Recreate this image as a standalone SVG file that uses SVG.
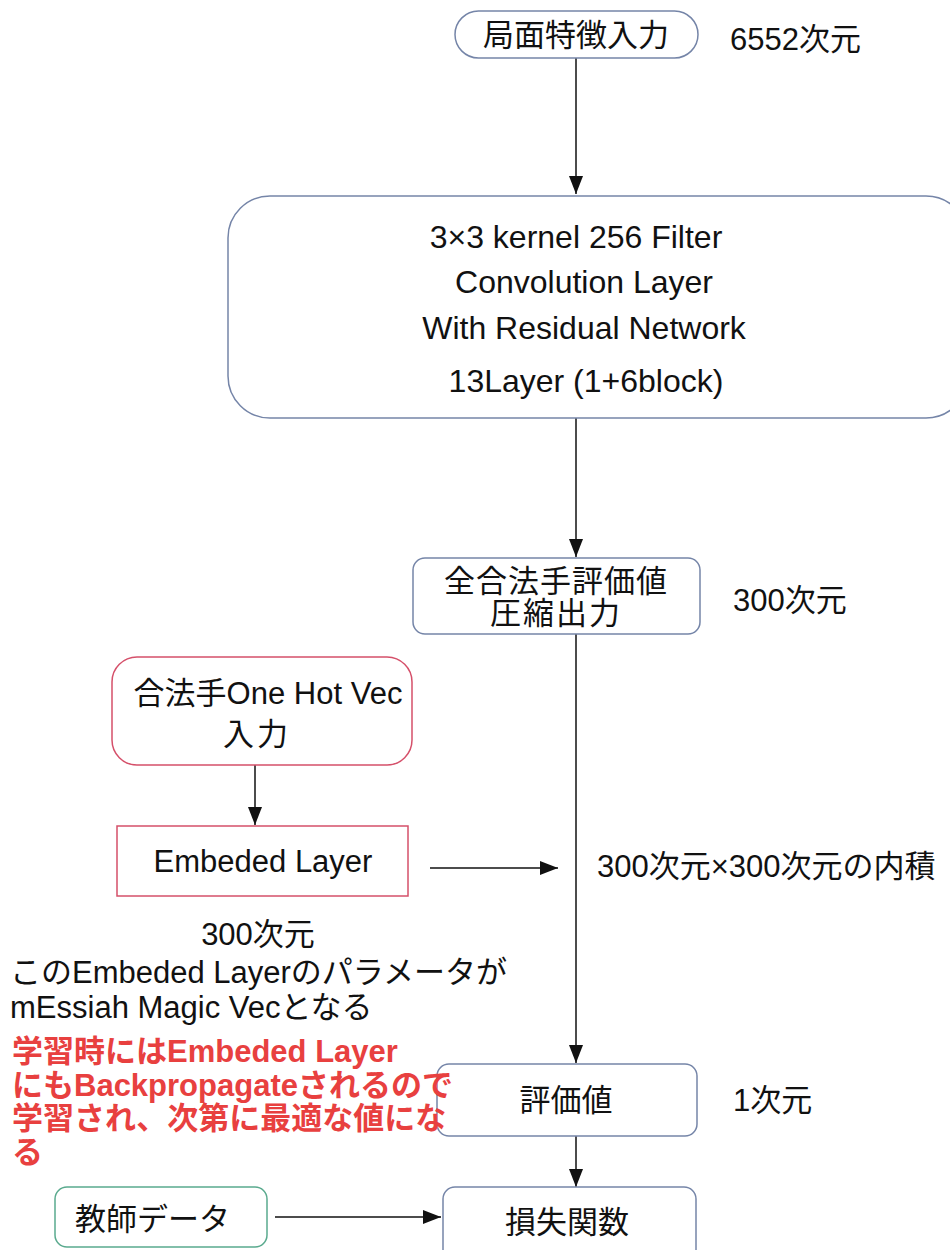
<svg xmlns="http://www.w3.org/2000/svg" width="950" height="1250" viewBox="0 0 950 1250">
<style>
text{font-family:"Liberation Sans","Noto Sans CJK JP",sans-serif;font-size:31px;fill:#111}
.c{text-anchor:middle}
.box{fill:#fff;stroke:#7585a8;stroke-width:1.5}
.red{fill:#fff;stroke:#d5506a;stroke-width:1.5}
.teal{fill:#fff;stroke:#5aaa8e;stroke-width:1.5}
.rt{fill:#e8403f;font-weight:bold}
.ln{stroke:#111;stroke-width:1.5;fill:none}
</style>
<defs>
<marker id="ah" markerWidth="18" markerHeight="14" refX="18" refY="7" orient="auto" markerUnits="userSpaceOnUse">
<path d="M0,0 L18,7 L0,14 Z" fill="#111"/>
</marker>
</defs>
<rect width="950" height="1250" fill="#fff"/>
<g id="connectors">
<line class="ln" x1="576" y1="58" x2="576" y2="194" marker-end="url(#ah)"/>
<line class="ln" x1="576" y1="418" x2="576" y2="557" marker-end="url(#ah)"/>
<line class="ln" x1="576" y1="634" x2="576" y2="1063" marker-end="url(#ah)"/>
<line class="ln" x1="255" y1="765" x2="255" y2="825" marker-end="url(#ah)"/>
<line class="ln" x1="430" y1="868" x2="558" y2="868" marker-end="url(#ah)"/>
<line class="ln" x1="576" y1="1136" x2="576" y2="1187" marker-end="url(#ah)"/>
<line class="ln" x1="275" y1="1217" x2="441" y2="1217" marker-end="url(#ah)"/>
</g>
<g id="input">
<rect class="box" x="455" y="11" width="243" height="47" rx="23.5"/>
<text class="c" x="576" y="46">局面特徴入力</text>
<text x="730" y="50">6552次元</text>
</g>
<g id="conv">
<rect class="box" x="228" y="196" width="740" height="222" rx="42"/>
<text class="c" x="576" y="248" style="font-size:32px">3×3 kernel 256 Filter</text>
<text class="c" x="584" y="293" style="font-size:32px">Convolution Layer</text>
<text class="c" x="584" y="339" style="font-size:32px">With Residual Network</text>
<text class="c" x="586" y="392" style="font-size:32px">13Layer (1+6block)</text>
</g>
<g id="compress">
<rect class="box" x="413" y="558" width="287" height="76" rx="12"/>
<text class="c" x="556" y="592" style="letter-spacing:1px">全合法手評価値</text>
<text class="c" x="556" y="624" style="letter-spacing:2px">圧縮出力</text>
<text x="733" y="611">300次元</text>
</g>
<g id="onehot">
<rect class="red" x="112" y="657" width="300" height="108" rx="25"/>
<text class="c" x="268" y="704">合法手One Hot Vec</text>
<text class="c" x="257" y="745" style="letter-spacing:3px">入力</text>
</g>
<g id="embed">
<rect class="red" x="117" y="826" width="291" height="70"/>
<text class="c" x="263" y="872">Embeded Layer</text>
</g>
<g id="dot">
<text x="597" y="877">300次元×300次元の内積</text>
</g>
<g id="value">
<rect class="box" x="437" y="1064" width="260" height="72" rx="12"/>
<text class="c" x="566" y="1111">評価値</text>
<text x="733" y="1111">1次元</text>
</g>
<g id="loss">
<rect class="box" x="443" y="1187" width="253" height="80" rx="12"/>
<text class="c" x="567" y="1233">損失関数</text>
</g>
<g id="teacher">
<rect class="teal" x="55" y="1187" width="212" height="60" rx="12"/>
<text x="75" y="1230">教師データ</text>
</g>
<g id="notes">
<text class="c" x="258" y="945">300次元</text>
<text x="10" y="983">このEmbeded Layerのパラメータが</text>
<text x="10" y="1018">mEssiah Magic Vecとなる</text>
<text class="rt" x="12" y="1062">学習時にはEmbeded Layer</text>
<text class="rt" x="12" y="1096">にもBackpropagateされるので</text>
<text class="rt" x="12" y="1129">学習され、次第に最適な値にな</text>
<text class="rt" x="12" y="1163">る</text>
</g>
</svg>
